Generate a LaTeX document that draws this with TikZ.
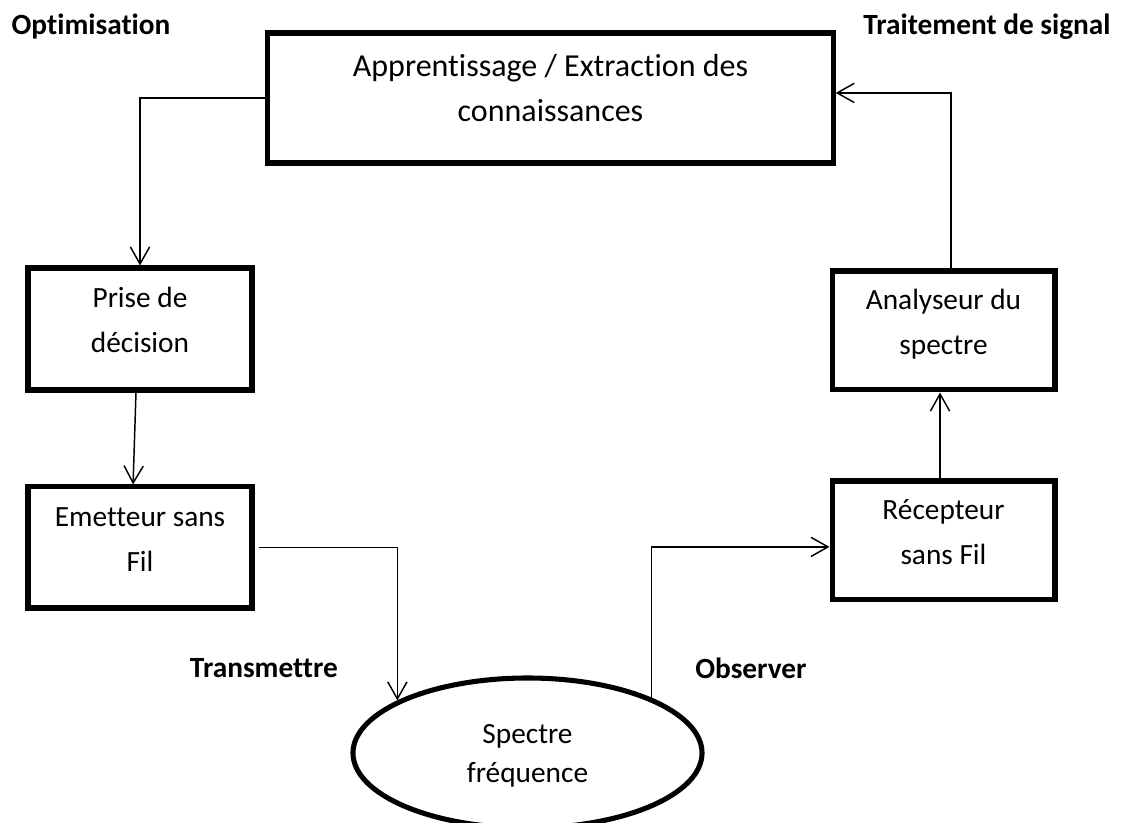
\documentclass[tikz,border=0pt]{standalone}
\usepackage{fontspec}
\setmainfont{Carlito}[Ligatures=NoCommon]
\usetikzlibrary{arrows.meta,shapes.geometric}

\begin{document}
\begin{tikzpicture}[x=0.375pt,y=-0.375pt,
  font=\fontsize{11pt}{16.9pt}\selectfont,
  blk/.style={draw,line width=1.9pt,align=center,inner sep=0pt,
              minimum width=84pt,minimum height=45pt,
              text height=18pt,text depth=0pt},
  lbl/.style={font=\fontsize{11pt}{13pt}\selectfont\bfseries},
  flow/.style={line width=0.55pt,-{Straight Barb[length=6.4pt,width=7.2pt]}},
]
\useasboundingbox (0,0) rectangle (1122,823);

\node[blk,minimum width=212pt,minimum height=48.75pt,text height=17.8pt,
      font=\fontsize{12pt}{16.9pt}\selectfont]
  (learn) at (550.5,98) {Apprentissage / Extraction des\\connaissances};
\node[blk,minimum height=45.75pt] (decide) at (140,329) {Prise de\\décision};
\node[blk,minimum height=45.4pt] (emit) at (140,547.5) {Emetteur sans\\Fil};
\node[blk,minimum width=83.6pt,minimum height=44.6pt]
  (analyse) at (943.5,330.5) {Analyseur du\\spectre};
\node[blk,minimum width=83.6pt,minimum height=44.6pt]
  (recv) at (943.5,540.5) {Récepteur\\sans Fil};
\node[ellipse,draw,line width=1.9pt,align=center,inner sep=0pt,
      minimum width=130.9pt,minimum height=56.25pt,
      font=\fontsize{11pt}{14.6pt}\selectfont,text height=21.8pt,text depth=0pt]
  (spec) at (527.5,753) {Spectre\\fréquence};

\node[lbl] (optim) at (91,27) {Optimisation};
\node[lbl] (sigproc) at (987,27) {Traitement de signal};
\node[lbl] (transm) at (264,668) {Transmettre};
\node[lbl] (observ) at (751,668) {Observer};

% the loop, clockwise from the top box
\draw[flow] (learn.west) -| (decide.north);
\draw[flow] ([xshift=-1.5pt]decide.south) -- ([xshift=-2.6pt]emit.north);
\draw[flow] ([xshift=1.5pt]emit.east) -| (spec.158);
\draw[flow] (spec.24) |- ([yshift=-2.4pt]recv.west);
\draw[flow] ([xshift=-1.3pt]recv.north) -- ([xshift=-1.3pt]analyse.south);
\draw[flow] ([xshift=2.8pt]analyse.north) |- ([yshift=1.9pt]learn.east);
\end{tikzpicture}
\end{document}
